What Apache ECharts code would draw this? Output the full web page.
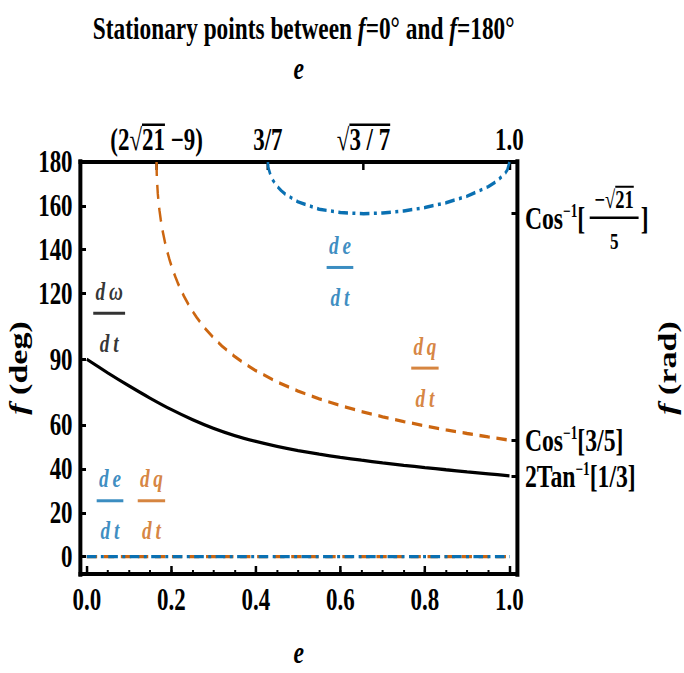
<!DOCTYPE html>
<html><head><meta charset="utf-8">
<script src="https://cdn.jsdelivr.net/npm/echarts@6/dist/echarts.min.js"></script>
<style>html,body{margin:0;padding:0;overflow:hidden;background:#fff;width:684px;height:673px}#c{transform-origin:0 0}</style>
</head><body><div id="c"></div>
<script>
// ---------------- data ----------------
const eMajorTicks = [0, 0.2, 0.4, 0.6, 0.8, 1.0];
const eMinorTicks = [0,0.05,0.1,0.15,0.2,0.25,0.3,0.35,0.4,0.45,0.5,0.55,0.6,0.65,0.7,0.75,0.8,0.85,0.9,0.95,1.0];
const eTopTicks = [0.16515, 0.42857, 0.65465, 1.0];
const eTopLabels = ['(2√21 −9)', '3/7', '√3/7', '1.0'];
const fLeftTicks = [0, 20, 40, 60, 90, 120, 140, 160, 180];
const fRightTicks = [156.42, 53.13, 36.87];
const fRightLabels = ['Cos⁻¹[−√21/5]', 'Cos⁻¹[3/5]', '2Tan⁻¹[1/3]'];

const omegaE = [0,0.05,0.1,0.15,0.2,0.25,0.3,0.35,0.4,0.45,0.5,0.55,0.6,0.65,0.7,0.75,0.8,0.85,0.9,0.95,1.0];
const omegaF = [90,83.8,77.9,72.3,67.1,62.5,58.5,55.2,52.55,50.3,48.4,46.75,45.3,44.0,42.8,41.68,40.63,39.64,38.7,37.8,36.87];

const qE = [0.16515,0.1655,0.166,0.168,0.17,0.172,0.175,0.18,0.185,0.19,0.195,0.2,0.205,0.21,0.215,0.22,0.23,0.24,0.25,0.26,0.27,0.28,0.3,0.32,0.35,0.375,0.4,0.45,0.5,0.55,0.6,0.65,0.7,0.75,0.8,0.85,0.9,0.95,1.0];
const qF = [180,174.96,172.15,165.68,161.4,157.97,153.7,148.06,143.43,139.46,135.97,132.84,130.01,127.41,125.02,122.79,118.77,115.21,112.02,109.14,106.51,104.09,99.79,96.06,91.27,87.85,84.84,79.73,75.52,71.97,68.90,66.21,63.81,61.64,59.67,57.85,56.18,54.61,53.13];

const eE = [0.42857,0.429,0.43,0.435,0.44,0.45,0.46,0.47,0.5,0.55,0.6,0.65465,0.7,0.75,0.8,0.85,0.9,0.95,0.97,0.99,0.995,1.0];
const eF = [180,178.38,177.05,173.8,171.82,169.01,166.95,165.31,161.81,158.48,156.93,156.42,156.71,157.67,159.23,161.43,164.43,168.75,171.22,174.89,176.38,180];

const zeroE = [0, 1];
const zeroF = [0, 0];

const annE = [0.053, 0.599, 0.80, 0.055, 0.153];
const annF = [111, 131.9, 86, 25.5, 25.5];
const annNum = ['d\u2009ω', 'd\u2009e', 'd\u2009q', 'd\u2009e', 'd\u2009q'];
const annKind = ['omega', 'e', 'q', 'e', 'q'];

// ---------------- styles ----------------
const BLUE = '#0a70b2';
const ORANGE = '#cc6610';
const kindColor = {omega: '#000', e: BLUE, q: ORANGE};
const kindBar = {omega: 43, e: 36, q: 37};
const FF = '"Liberation Serif", "Times New Roman", serif';
const K = 1.35;          // horizontal condensation of the reference
const W = 684, H = 673;

const el = document.getElementById('c');
el.style.width = (W * K) + 'px';
el.style.height = H + 'px';
el.style.transform = 'scaleX(' + (1 / K) + ')';

const mctx = document.createElement('canvas').getContext('2d');
function tw(text, size, weight, style) {
  mctx.font = (style || 'normal') + ' ' + (weight || 'normal') + ' ' + size + 'px "Liberation Serif"';
  return mctx.measureText(text).width;
}
function nearest(arr, v) {
  let b = 0;
  for (let i = 1; i < arr.length; i++) if (Math.abs(arr[i] - v) < Math.abs(arr[b] - v)) b = i;
  return b;
}
const pairs = (xs, ys) => xs.map((x, i) => [x, ys[i]]);

// ---- top axis label rich text ----
const TFS = 31;
const tf = t => tw(t, TFS, 'bold');
const wA = tf('(2√'), wB = tf('21'), wC = tf(' −9)');
const wS = tf('√'), wT = tf('3 / 7');
const tBase = {fontFamily: FF, fontSize: TFS, fontWeight: 'bold', color: '#000', lineHeight: 28};
const OVH = 2.5;
const topRich = {
  t: tBase,
  t0A: Object.assign({}, tBase, {width: wA}),
  t0B: Object.assign({}, tBase, {width: wB}),
  t0C: Object.assign({}, tBase, {width: wC}),
  o0a: {width: wA, height: OVH, lineHeight: OVH},
  o0b: {width: wB, height: OVH, lineHeight: OVH, backgroundColor: '#000'},
  o0c: {width: wC, height: OVH, lineHeight: OVH},
  t2A: Object.assign({}, tBase, {width: wS}),
  t2B: Object.assign({}, tBase, {width: wT}),
  o2a: {width: wS, height: OVH, lineHeight: OVH},
  o2b: {width: wT, height: OVH, lineHeight: OVH, backgroundColor: '#000'}
};
const topStrings = [
  '{o0a|}{o0b|}{o0c|}\n{t0A|(2√}{t0B|21}{t0C| −9)}',
  '{t|' + eTopLabels[1] + '}',
  '{o2a|}{o2b|}\n{t2A|√}{t2B|3 / 7}',
  '{t|' + eTopLabels[3] + '}'
];

// ---- right axis label rich text ----
const RFS = 32, RW = 'bold';
const wCos = tw('Cos', RFS, RW), wSup = tw('−1', 18, RW), wBr = tw('[', RFS, RW);
const g1 = 6, g2 = 3;
const wNm = tw('−√', 25, RW), wNn = tw('21', 25, RW), wNum = wNm + wNn;
const wBar = Math.max(wNum + 10, 66);
const w5 = tw('5', 23, RW);
const pNum = wCos + wSup + wBr + g1 + (wBar - wNum) / 2;
const pOv = pNum + wNm;
const pDen = wCos + wSup + wBr + g1 + (wBar - w5) / 2;
const rTxt = {fontFamily: FF, color: '#000', fontWeight: RW};
const rightRich = {
  rg: {width: 1, height: 6, lineHeight: 6},
  rp0: {width: pOv, height: 12, lineHeight: 12},
  rov: {width: wNn, height: 2, lineHeight: 2, verticalAlign: 'top', backgroundColor: '#000'},
  rp1: {width: pNum, height: 4, lineHeight: 4},
  rnm: Object.assign({}, rTxt, {fontSize: 25, lineHeight: 4}),
  rnn: Object.assign({}, rTxt, {fontSize: 25, lineHeight: 4}),
  rc: Object.assign({}, rTxt, {fontSize: RFS, lineHeight: 32}),
  rsup: Object.assign({}, rTxt, {fontSize: 18, lineHeight: 18, verticalAlign: 'top'}),
  rbr: Object.assign({}, rTxt, {fontSize: RFS, lineHeight: 32}),
  rg1: {width: g1, height: 2, lineHeight: 2},
  rg2: {width: g2, height: 2, lineHeight: 2},
  rbar: {width: wBar, height: 2.5, lineHeight: 2.5, backgroundColor: '#000'},
  rp3: {width: pDen, height: 14, lineHeight: 14},
  rden: Object.assign({}, rTxt, {fontSize: 23, lineHeight: 14})
};
const rightStrings = [
  '{rg|}\n{rp0|}{rov|}\n{rp1|}{rnm|−√}{rnn|21}\n{rc|Cos}{rsup|−1}{rbr|[}{rg1|}{rbar|}{rg2|}{rbr|]}\n{rp3|}{rden|5}',
  '{rc|Cos}{rsup|−1}{rbr|[3/5]}',
  '{rc|2Tan}{rsup|−1}{rbr|[1/3]}'
];

// ---------------- chart ----------------
const chart = echarts.init(el, null, {renderer: 'svg', width: W * K, height: H});

const XMIN = -0.016, XMAX = 1.019, YMIN = -7.9, YMAX = 180;
const tickFont = {fontFamily: FF, fontSize: 31, fontWeight: 'bold', color: '#000'};
const hLine = {show: true, onZero: false, lineStyle: {color: '#000', width: 4, cap: 'square'}};
const vLine = {show: true, onZero: false, lineStyle: {color: '#000', width: 4 * K, cap: 'square'}};
const nameRich = {
  i: {fontFamily: FF, fontSize: 34, fontWeight: 'bold', fontStyle: 'italic', color: '#000'},
  b: {fontFamily: FF, fontSize: 34, fontWeight: 'bold', color: '#000'}
};
const eName = {fontFamily: FF, fontSize: 32, fontWeight: 'bold', fontStyle: 'italic', color: '#000'};

function annItem(i) {
  const c = kindColor[annKind[i]];
  return {
    value: [annE[i], annF[i]],
    label: {
      show: true, position: 'inside', offset: [0, 8],
      formatter: '{n|' + annNum[i] + '}\n{bar|}\n{d|d\u2009t}',
      rich: {
        n: {fontFamily: FF, fontSize: 26, fontWeight: 'bold', fontStyle: 'italic', color: c, lineHeight: 38},
        bar: {width: kindBar[annKind[i]], height: 3, lineHeight: 6, backgroundColor: c},
        d: {fontFamily: FF, fontSize: 26, fontWeight: 'bold', fontStyle: 'italic', color: c, lineHeight: 54}
      }
    }
  };
}

const option = {
  animation: false,
  backgroundColor: '#fff',
  title: {
    text: '{b|Stationary points between }{i|f}{b|=0° and }{i|f}{b|=180°}',
    left: 300 * K, top: 7, textAlign: 'center',
    textStyle: {
      rich: {
        b: {fontFamily: FF, fontSize: 31.5, fontWeight: 'bold', color: '#000'},
        i: {fontFamily: FF, fontSize: 31.5, fontWeight: 'bold', fontStyle: 'italic', color: '#000'}
      }
    }
  },
  grid: {left: 80 * K, top: 162, width: 437.5 * K, height: 412, outerBoundsMode: 'none', containLabel: false},
  xAxis: [
    {
      type: 'value', position: 'bottom', min: XMIN, max: XMAX,
      axisLine: hLine, splitLine: {show: false},
      axisTick: {show: true, inside: true, customValues: eMinorTicks, length: 4, lineStyle: {color: '#000', width: 2 * K}},
      axisLabel: Object.assign({customValues: eMajorTicks, formatter: v => v.toFixed(1), margin: 10, showMinLabel: true, showMaxLabel: true}, tickFont),
      name: 'e', nameLocation: 'middle', nameGap: 62, nameTextStyle: eName, nameMoveOverlap: false
    },
    {
      type: 'value', position: 'bottom', min: XMIN, max: XMAX,
      axisLine: {show: false, onZero: false}, splitLine: {show: false}, axisLabel: {show: false},
      axisTick: {show: true, inside: true, customValues: eMajorTicks, length: 8, lineStyle: {color: '#000', width: 2.5 * K}}
    },
    {
      type: 'value', position: 'top', min: XMIN, max: XMAX,
      axisLine: hLine, splitLine: {show: false},
      axisTick: {show: true, inside: true, customValues: eTopTicks, length: 8, lineStyle: {color: '#000', width: 2.5 * K}},
      axisLabel: {customValues: eTopTicks, margin: 8, showMinLabel: true, showMaxLabel: true,
        formatter: v => topStrings[nearest(eTopTicks, v)], rich: topRich, fontFamily: FF, fontSize: TFS, fontWeight: 'bold', color: '#000'},
      name: 'e', nameLocation: 'middle', nameGap: 78, nameTextStyle: eName, nameMoveOverlap: false
    }
  ],
  yAxis: [
    {
      type: 'value', position: 'left', min: YMIN, max: YMAX,
      axisLine: vLine, splitLine: {show: false},
      axisTick: {show: true, inside: true, customValues: fLeftTicks, length: 6 * K, lineStyle: {color: '#000', width: 3}},
      axisLabel: Object.assign({customValues: fLeftTicks, formatter: v => String(Math.round(v)), margin: 10, showMinLabel: true, showMaxLabel: true}, tickFont),
      name: '{i|f}{b| (deg)}', nameLocation: 'middle', nameRotate: 90, nameGap: 66,
      nameTextStyle: {rich: nameRich, fontFamily: FF, fontSize: 34}, nameMoveOverlap: false
    },
    {
      type: 'value', position: 'right', min: YMIN, max: YMAX,
      axisLine: vLine, splitLine: {show: false},
      axisTick: {show: true, inside: true, customValues: fRightTicks, length: 6 * K, lineStyle: {color: '#000', width: 3}},
      axisLabel: {customValues: fRightTicks, margin: 10, showMinLabel: true, showMaxLabel: true,
        formatter: v => rightStrings[nearest(fRightTicks, v)], rich: rightRich, fontFamily: FF, fontSize: RFS, fontWeight: RW, color: '#000'},
      name: '{i|f}{b| (rad)}', nameLocation: 'middle', nameRotate: 90, nameGap: 185,
      nameTextStyle: {rich: nameRich, fontFamily: FF, fontSize: 34}, nameMoveOverlap: false
    }
  ],
  series: [
    {type: 'line', name: 'zero dq', xAxisIndex: 0, yAxisIndex: 0, data: pairs(zeroE, zeroF), symbol: 'none',
     lineStyle: {color: ORANGE, width: 3.2, type: [14, 9]}},
    {type: 'line', name: 'zero de', xAxisIndex: 0, yAxisIndex: 0, data: pairs(zeroE, zeroF), symbol: 'none',
     lineStyle: {color: BLUE, width: 3.2, type: [13, 6, 4, 6]}},
    {type: 'line', name: 'domega', xAxisIndex: 0, yAxisIndex: 0, data: pairs(omegaE, omegaF), symbol: 'none', smooth: 0.3,
     lineStyle: {color: '#000', width: 3.3}},
    {type: 'line', name: 'dq', xAxisIndex: 0, yAxisIndex: 0, data: pairs(qE, qF), symbol: 'none', smooth: false,
     lineStyle: {color: ORANGE, width: 3.3, type: [14, 9]}},
    {type: 'line', name: 'de', xAxisIndex: 0, yAxisIndex: 0, data: pairs(eE, eF), symbol: 'none', smooth: false,
     lineStyle: {color: BLUE, width: 3.5, type: [13, 6, 4, 6]}},
    {type: 'scatter', name: 'labels', xAxisIndex: 0, yAxisIndex: 0, symbolSize: 0, silent: true,
     data: annE.map((e, i) => annItem(i))}
  ]
};
chart.setOption(option);
</script>
</body></html>
